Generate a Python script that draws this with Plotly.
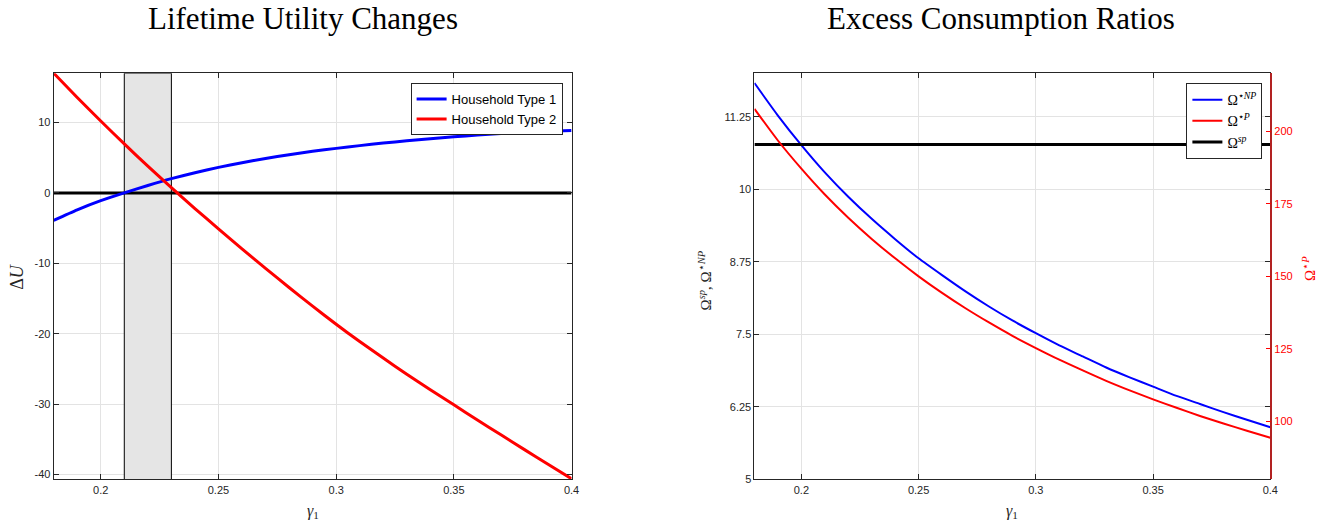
import plotly.graph_objects as go

# ---------------- data ----------------
gamma1 = [0.18, 0.19, 0.20, 0.21, 0.22, 0.23, 0.24, 0.25, 0.26, 0.27, 0.28, 0.29,
          0.30, 0.31, 0.32, 0.33, 0.34, 0.35, 0.36, 0.37, 0.38, 0.39, 0.40]

dU_type1 = [-3.9, -2.4, -1.1, 0.0, 1.05, 2.02, 2.87, 3.62, 4.28, 4.88, 5.42, 5.9,
            6.32, 6.71, 7.07, 7.40, 7.70, 7.97, 8.21, 8.42, 8.60, 8.75, 8.87]
dU_type2 = [17.0, 13.55, 10.2, 6.95, 3.8, 0.75, -2.22, -5.12, -7.95, -10.72, -13.43, -16.08,
            -18.66, -21.11, -23.46, -25.74, -27.94, -30.10, -32.24, -34.36, -36.46, -38.54, -40.6]
dU_zero = [0.0] * len(gamma1)

omega_NP = [11.83, 11.27, 10.76, 10.29, 9.87, 9.49, 9.14, 8.81, 8.52, 8.24, 7.98, 7.74,
            7.52, 7.31, 7.12, 6.93, 6.76, 6.60, 6.44, 6.30, 6.16, 6.03, 5.90]
omega_P = [207.7, 196.8, 187.1, 178.2, 170.2, 162.9, 156.2, 150.0, 144.3, 139.0, 134.1, 129.5,
           125.3, 121.3, 117.6, 114.0, 110.7, 107.6, 104.7, 101.9, 99.3, 96.8, 94.4]
omega_sp = [10.77] * len(gamma1)

shade_band = [0.21, 0.23]

x_range = [0.18, 0.4]
dU_range = [-40.7, 17.0]
om_range = [5, 12]
omP_range = [80, 220]

x_ticks = [0.2, 0.25, 0.3, 0.35, 0.4]
x_ticklabels = ["0.2", "0.25", "0.3", "0.35", "0.4"]
dU_ticks = [-40, -30, -20, -10, 0, 10]
dU_ticklabels = ["-40", "-30", "-20", "-10", "0", "10"]
om_ticks = [5, 6.25, 7.5, 8.75, 10, 11.25]
om_ticklabels = ["5", "6.25", "7.5", "8.75", "10", "11.25"]
omP_ticks = [100, 125, 150, 175, 200]
omP_ticklabels = ["100", "125", "150", "175", "200"]

# ---------------- styling ----------------
W, H = 1335, 529
SANS = "Liberation Sans, Arial, sans-serif"
TICKFONT = dict(family=SANS, size=11, color="#262626")
SERIF = "Liberation Serif, Times New Roman, serif"
AX = "#262626"
GRID = "#e3e3e3"


def px_x(p):
    return p / W


def px_y(p):
    return 1 - p / H


fig = go.Figure()

# Left panel: shaded band (filled trace so it sits above the grid, below the curves)
fig.add_trace(go.Scatter(
    x=[shade_band[0], shade_band[0], shade_band[1], shade_band[1], shade_band[0]],
    y=[dU_range[0], dU_range[1], dU_range[1], dU_range[0], dU_range[0]],
    mode="lines", fill="toself", fillcolor="#e5e5e5",
    line=dict(color="black", width=1), showlegend=False, hoverinfo="skip",
    xaxis="x", yaxis="y"))
fig.add_trace(go.Scatter(x=gamma1, y=dU_zero, mode="lines", line=dict(color="black", width=3),
                         showlegend=False, xaxis="x", yaxis="y", hoverinfo="skip"))
fig.add_trace(go.Scatter(x=gamma1, y=dU_type1, mode="lines", name="Household Type 1",
                         line=dict(color="#0000ff", width=3, shape="spline", smoothing=0.6),
                         xaxis="x", yaxis="y", legend="legend"))
fig.add_trace(go.Scatter(x=gamma1, y=dU_type2, mode="lines", name="Household Type 2",
                         line=dict(color="#ff0000", width=3, shape="spline", smoothing=0.6),
                         xaxis="x", yaxis="y", legend="legend"))

# Right panel
fig.add_trace(go.Scatter(x=gamma1, y=omega_NP, mode="lines", name="Ω<sup>⋆<i>NP</i></sup>",
                         line=dict(color="#0000ff", width=2, shape="spline", smoothing=0.6),
                         xaxis="x2", yaxis="y2", legend="legend2"))
fig.add_trace(go.Scatter(x=gamma1, y=omega_P, mode="lines", name="Ω<sup>⋆<i>P</i></sup>",
                         line=dict(color="#ff0000", width=2, shape="spline", smoothing=0.6),
                         xaxis="x2", yaxis="y3", legend="legend2"))
fig.add_trace(go.Scatter(x=gamma1, y=omega_sp, mode="lines", name="Ω<sup><i>sp</i></sup>",
                         line=dict(color="black", width=3),
                         xaxis="x2", yaxis="y2", legend="legend2"))

left_dom = [px_x(54), px_x(575)]
right_dom = [px_x(759), px_x(1278)]
y_dom = [px_y(485), px_y(74)]

common_x = dict(range=x_range, tickvals=x_ticks, ticktext=x_ticklabels,
                ticks="inside", ticklen=5, tickcolor=AX, showline=True, linecolor=AX,
                linewidth=1, mirror="ticks", showgrid=True, gridcolor=GRID,
                tickfont=TICKFONT, zeroline=False)

fig.update_layout(
    width=W, height=H, margin=dict(l=0, r=0, t=0, b=0), autosize=False,
    plot_bgcolor="white", paper_bgcolor="white",
    xaxis=dict(domain=left_dom, anchor="y", **common_x),
    yaxis=dict(domain=y_dom, anchor="x", range=dU_range, tickvals=dU_ticks,
               ticktext=dU_ticklabels, ticks="inside", ticklen=5, tickcolor=AX,
               showline=True, linecolor=AX, linewidth=1, mirror="ticks",
               showgrid=True, gridcolor=GRID, tickfont=TICKFONT, zeroline=False),
    xaxis2=dict(domain=right_dom, anchor="y2", **common_x),
    yaxis2=dict(domain=y_dom, anchor="x2", range=om_range, tickvals=om_ticks,
                ticktext=om_ticklabels, ticks="inside", ticklen=5, tickcolor=AX,
                showline=True, linecolor=AX, linewidth=1, mirror="ticks",
                showgrid=True, gridcolor=GRID, tickfont=TICKFONT, zeroline=False),
    yaxis3=dict(overlaying="y2", anchor="x2", side="right", range=omP_range,
                tickvals=omP_ticks, ticktext=omP_ticklabels, ticks="inside", ticklen=5,
                tickcolor="#ff0000", showline=True, linecolor="#b22222", linewidth=1.5,
                showgrid=False, zeroline=False,
                tickfont=dict(family=SANS, size=11, color="#ff0000")),
    legend=dict(x=px_x(566), xanchor="right", y=px_y(84), yanchor="top",
                bgcolor="white", bordercolor=AX, borderwidth=1,
                font=dict(family=SANS, size=13, color="black"),
                tracegroupgap=0, itemwidth=30),
    legend2=dict(x=px_x(1270), xanchor="right", y=px_y(84), yanchor="top",
                 bgcolor="white", bordercolor=AX, borderwidth=1,
                 font=dict(family=SERIF, size=14, color="black"),
                 tracegroupgap=0, itemwidth=30),
)

annotations = [
    dict(text="Lifetime Utility Changes", x=px_x(305), y=px_y(19), xref="paper", yref="paper",
         showarrow=False, xanchor="center", yanchor="middle",
         font=dict(family=SERIF, size=31, color="black")),
    dict(text="Excess Consumption Ratios", x=px_x(1007), y=px_y(19), xref="paper", yref="paper",
         showarrow=False, xanchor="center", yanchor="middle",
         font=dict(family=SERIF, size=31, color="black")),
    dict(text="<i>γ</i><sub>1</sub>", x=px_x(315), y=px_y(517), xref="paper", yref="paper",
         showarrow=False, xanchor="center", yanchor="middle",
         font=dict(family=SERIF, size=16, color="#262626")),
    dict(text="<i>γ</i><sub>1</sub>", x=px_x(1018), y=px_y(517), xref="paper", yref="paper",
         showarrow=False, xanchor="center", yanchor="middle",
         font=dict(family=SERIF, size=16, color="#262626")),
    dict(text="Δ<i>U</i>", x=px_x(17), y=px_y(280), xref="paper", yref="paper",
         showarrow=False, xanchor="center", yanchor="middle", textangle=-90,
         font=dict(family=SERIF, size=18, color="#262626")),
    dict(text="Ω<sup><i>sp</i></sup>, Ω<sup>⋆<i>NP</i></sup>", x=px_x(709), y=px_y(284),
         xref="paper", yref="paper", showarrow=False, xanchor="center", yanchor="middle",
         textangle=-90, font=dict(family=SERIF, size=15, color="#262626")),
    dict(text="Ω<sup>⋆<i>P</i></sup>", x=px_x(1317), y=px_y(272), xref="paper", yref="paper",
         showarrow=False, xanchor="center", yanchor="middle", textangle=-90,
         font=dict(family=SERIF, size=15, color="#ff0000")),
]
fig.update_layout(annotations=annotations)

fig.write_html("out.html")
